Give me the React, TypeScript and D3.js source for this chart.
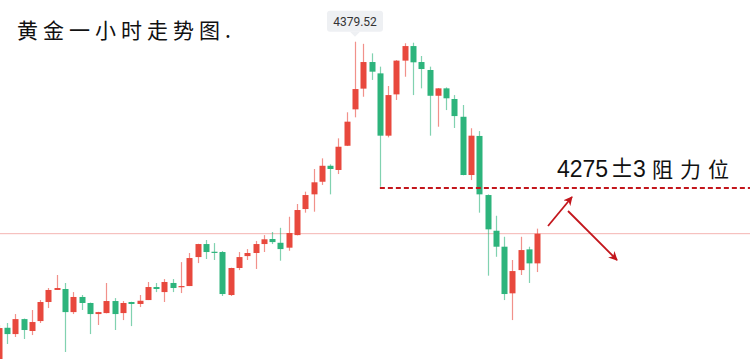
import React from 'react';
import * as d3 from 'd3';

// Gold 1h candles (red = up, green = down)
const opens = [
  4152.0, 4175.2, 4170.7, 4181.4, 4172.9, 4180.0, 4193.6, 4202.2, 4202.9, 4186.4,
  4197.2, 4192.9, 4185.0, 4185.7, 4194.3, 4185.7, 4193.6, 4192.2, 4195.0, 4204.3,
  4200.7, 4207.2, 4204.3, 4205.0, 4225.7, 4235.0, 4229.5, 4229.3, 4198.6, 4217.9,
  4226.4, 4228.6, 4235.0, 4238.6, 4235.9, 4232.4, 4241.4, 4260.0, 4270.5, 4279.5,
  4290.9, 4287.9, 4305.2, 4331.2, 4346.0, 4365.0, 4356.9, 4312.4, 4341.9, 4366.0,
  4376.4, 4365.0, 4359.3, 4340.9, 4346.2, 4338.6, 4325.9, 4284.3, 4312.2, 4270.0,
  4244.5, 4233.1, 4199.8, 4216.4, 4231.2, 4221.2,
];
const closes = [
  4175.0, 4170.7, 4181.4, 4173.6, 4179.3, 4193.6, 4202.2, 4203.6, 4186.4, 4197.2,
  4192.9, 4185.0, 4186.4, 4194.3, 4185.0, 4192.9, 4192.2, 4194.5, 4204.3, 4202.9,
  4207.9, 4203.6, 4205.0, 4225.0, 4235.0, 4229.3, 4228.8, 4199.3, 4217.9, 4225.7,
  4228.6, 4235.0, 4238.4, 4236.4, 4231.4, 4242.9, 4259.3, 4270.0, 4279.1, 4290.9,
  4288.6, 4304.5, 4322.4, 4345.7, 4365.0, 4358.1, 4312.4, 4341.4, 4366.0, 4376.4,
  4364.8, 4360.0, 4340.9, 4346.2, 4339.1, 4326.4, 4284.3, 4312.4, 4270.5, 4245.5,
  4233.1, 4199.3, 4215.7, 4230.7, 4221.2, 4242.4,
];
const highs = [
  4177.2, 4178.6, 4185.0, 4181.8, 4187.9, 4195.0, 4203.6, 4212.9, 4207.2, 4200.7,
  4198.6, 4193.2, 4186.6, 4207.2, 4196.4, 4194.3, 4193.8, 4198.6, 4207.9, 4207.2,
  4210.0, 4210.0, 4222.1, 4228.6, 4235.2, 4237.9, 4235.7, 4230.0, 4218.1, 4229.3,
  4231.4, 4237.2, 4241.4, 4243.6, 4246.6, 4254.5, 4263.6, 4272.4, 4288.6, 4296.2,
  4291.9, 4310.5, 4329.1, 4379.52, 4378.0, 4371.2, 4361.7, 4347.9, 4366.4, 4378.4,
  4378.8, 4369.3, 4361.7, 4346.4, 4346.9, 4341.4, 4334.3, 4317.7, 4315.7, 4270.5,
  4255.2, 4240.2, 4223.6, 4240.2, 4233.1, 4246.0,
];
const lows = [
  4150.5, 4163.6, 4168.6, 4167.2, 4170.0, 4178.6, 4189.3, 4202.2, 4157.9, 4185.0,
  4187.9, 4170.7, 4177.2, 4185.5, 4173.6, 4180.7, 4176.4, 4190.0, 4195.0, 4200.7,
  4193.6, 4200.7, 4200.0, 4205.0, 4221.4, 4224.3, 4223.6, 4197.9, 4197.9, 4216.4,
  4223.6, 4217.2, 4229.3, 4235.0, 4223.1, 4230.2, 4241.2, 4257.4, 4258.1, 4277.2,
  4270.5, 4285.0, 4305.0, 4325.5, 4340.2, 4352.2, 4275.9, 4311.2, 4337.9, 4354.5,
  4341.4, 4346.2, 4312.4, 4318.8, 4330.7, 4317.9, 4284.1, 4280.7, 4257.4, 4212.4,
  4225.9, 4195.0, 4180.7, 4212.9, 4207.2, 4215.0,
];

const title = '黄金一小时走势图.';
const resistance = 4275;
const resistanceText = ['4275', '±', '3', '阻力位'];
const peakIndex = 43;
const resistanceStart = 46;

const W = 750;
const H = 359;
const UP = '#e8483d';
const DOWN = '#2db47c';
const ANNOT = '#c3161c';

const App: React.FC = () => {
  const x = d3.scaleLinear().domain([0, opens.length - 1]).range([-1.3, 537.3]);
  const y = d3.scaleLinear().domain([4152.9, 4409.3]).range([359, 0]);
  const bodyW = 6;
  const last = closes[closes.length - 1];

  const peakX = x(peakIndex);
  const peakY = y(highs[peakIndex]);
  const cjk = '"Noto Sans CJK SC", sans-serif';
  const latin = "'Liberation Sans', Arial, sans-serif";

  return (
    <>
      <style>{'body{margin:0}'}</style>
      <svg width={W} height={H} style={{ display: 'block', background: '#fff' }}>
        <defs>
          <marker id="arrow" viewBox="0 0 10 10" refX="9" refY="5" markerWidth="5" markerHeight="5" orient="auto-start-reverse">
            <path d="M0,0 L10,5 L0,10 L3,5 z" fill={ANNOT} />
          </marker>
        </defs>

        {/* current price line */}
        <line x1={0} x2={W} y1={y(last)} y2={y(last)} stroke="#f4b4b2" strokeWidth={1} />

        {/* candles */}
        {opens.map((o, i) => {
          const c = closes[i];
          const up = c >= o;
          const col = up ? UP : DOWN;
          const top = y(Math.max(o, c));
          const bot = y(Math.min(o, c));
          const cx = Math.round(x(i)) + 0.5;
          return (
            <g key={i}>
              <line x1={cx} x2={cx} y1={y(highs[i])} y2={y(lows[i])} stroke={col} strokeOpacity={0.6} strokeWidth={1.2} />
              <rect x={cx - bodyW / 2} y={top} width={bodyW} height={Math.max(1.2, bot - top)} fill={col} />
            </g>
          );
        })}

        {/* resistance */}
        <line x1={x(resistanceStart)} x2={W} y1={y(resistance)} y2={y(resistance)} stroke={ANNOT} strokeWidth={2} strokeDasharray="5,3" />

        {/* peak tooltip */}
        <g transform={`translate(${peakX},${peakY})`}>
          <rect x={-28} y={-31} width={56} height={21} rx={3} fill="#eef0f3" />
          <path d="M-5,-10 L5,-10 L0,-5 z" fill="#eef0f3" />
          <text x={0} y={-16} textAnchor="middle" fontSize={12} fill="#333" fontFamily="Roboto, sans-serif">
            {highs[peakIndex].toFixed(2)}
          </text>
        </g>

        {/* title */}
        <text x={17} y={38} fontSize={21} letterSpacing={5} fontFamily={cjk} fill="#111">
          {title}
        </text>

        {/* resistance label */}
        <g fill="#111">
          <text x={557} y={177} fontSize={23} fontFamily={latin}>{resistanceText[0]}</text>
          <text x={622} y={177} fontSize={24} fontFamily={cjk} textAnchor="middle">{resistanceText[1]}</text>
          <text x={633} y={177} fontSize={23} fontFamily={latin}>{resistanceText[2]}</text>
          <text x={652} y={177} fontSize={21} fontFamily={cjk} letterSpacing={7}>{resistanceText[3]}</text>
        </g>

        {/* arrows */}
        <line x1={548} y1={226} x2={572} y2={197} stroke={ANNOT} strokeWidth={1.8} markerEnd="url(#arrow)" />
        <line x1={568} y1={211} x2={617} y2={260} stroke={ANNOT} strokeWidth={1.8} markerEnd="url(#arrow)" />
      </svg>
    </>
  );
};

export default App;
